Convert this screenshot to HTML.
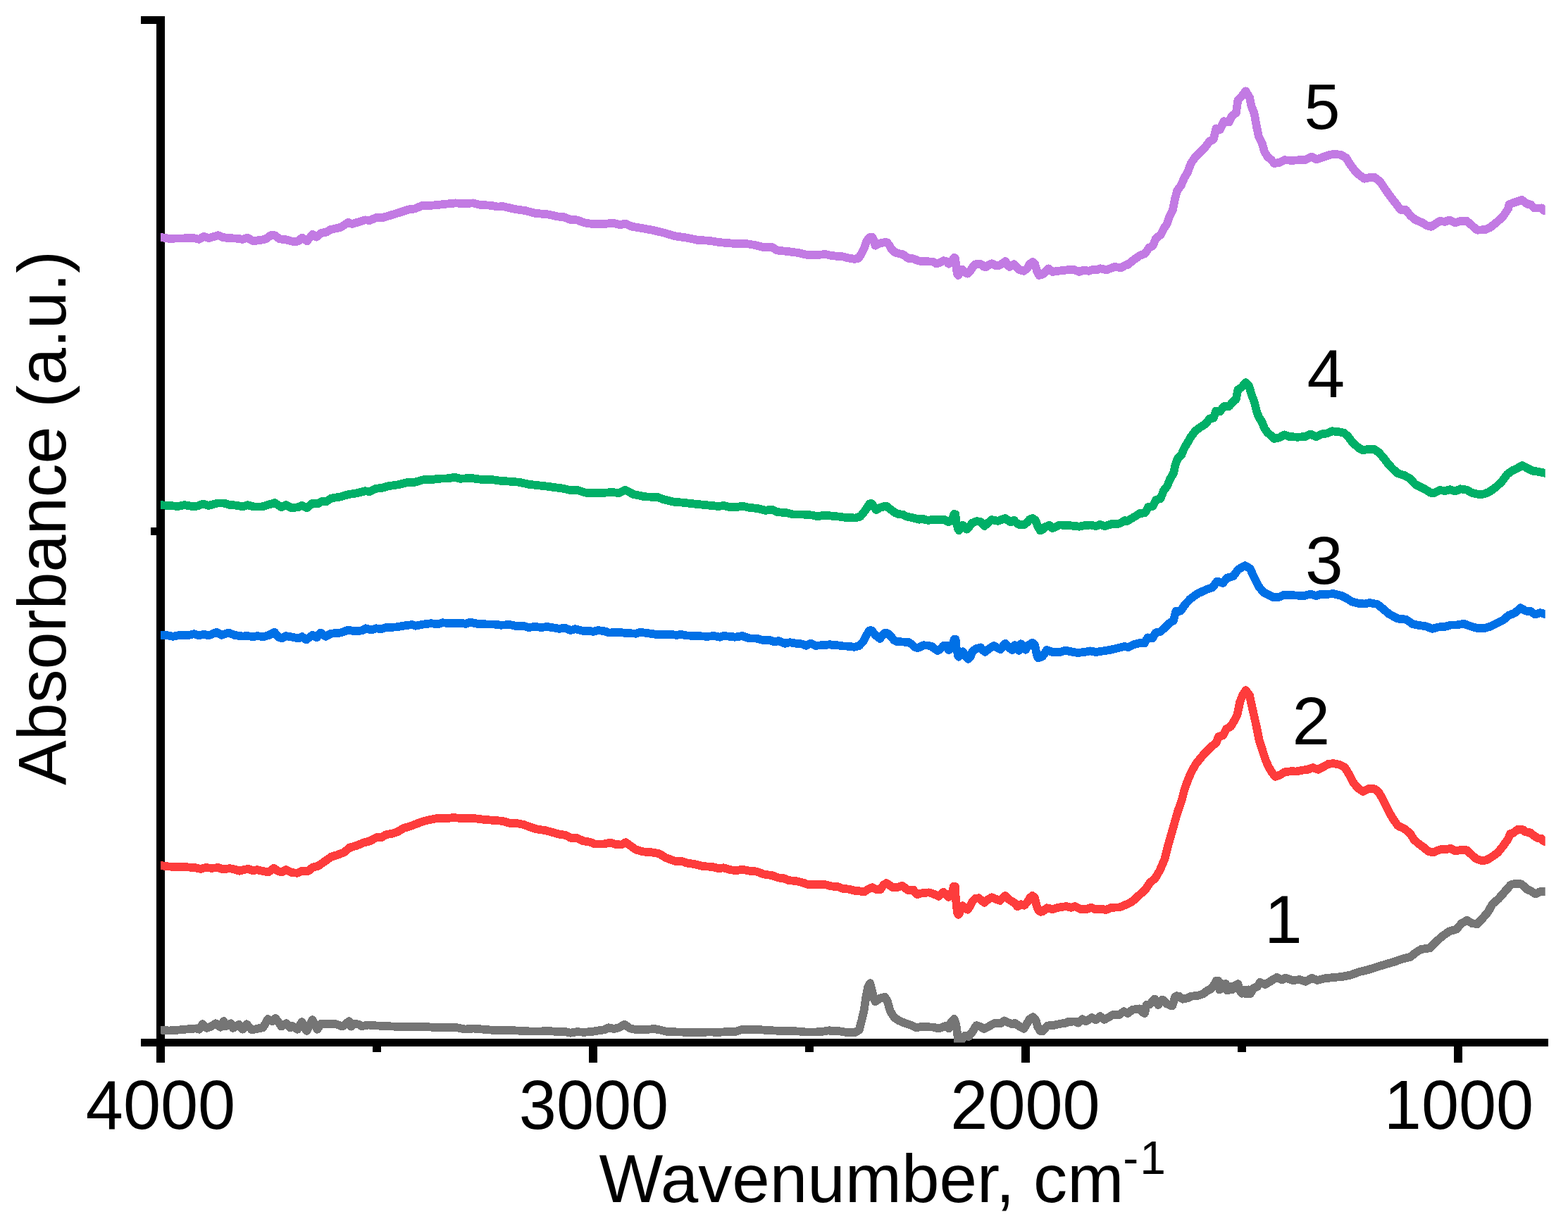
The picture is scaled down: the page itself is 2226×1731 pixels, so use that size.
<!DOCTYPE html>
<html lang="en">
<head>
<meta charset="utf-8">
<title>FTIR absorbance spectra</title>
<style>
html,body{margin:0;padding:0;background:#fff;}
body{width:2226px;height:1731px;overflow:hidden;}
svg{display:block;}
text{font-family:"Liberation Sans",Arial,Helvetica,sans-serif;fill:#000;}
.t{font-size:95.5px;}
.lab{font-size:96.5px;}
.curves polyline{fill:none;stroke-width:11.8;stroke-linejoin:round;stroke-linecap:butt;}
</style>
</head>
<body>
<svg width="2226" height="1731" viewBox="0 0 2226 1731">
<rect width="2226" height="1731" fill="#fff"/>
<defs><clipPath id="plot"><rect x="228" y="28.5" width="1965.7" height="1452"/></clipPath></defs>
<g fill="#000" shape-rendering="crispEdges">
<rect x="222" y="23" width="12" height="1486"/>
<rect x="200" y="23" width="22" height="11"/>
<rect x="214" y="749" width="8" height="11"/>
<rect x="200" y="1475" width="1998" height="11"/>
<rect x="836" y="1486" width="12" height="23"/>
<rect x="1450" y="1486" width="12" height="23"/>
<rect x="2064" y="1486" width="12" height="23"/>
<rect x="529" y="1486" width="12" height="8"/>
<rect x="1143" y="1486" width="12" height="8"/>
<rect x="1757" y="1486" width="12" height="8"/>
</g>
<g class="curves" clip-path="url(#plot)" shape-rendering="crispEdges">
<polyline points="216.0,1462.5 228.0,1462.5 240.2,1463.5 254.0,1462.5 264.9,1461.5 270.4,1461.1 278.7,1460.4 282.8,1461.7 287.6,1454.3 293.8,1459.8 299.3,1457.7 306.2,1453.3 313.0,1458.7 317.8,1450.1 319.9,1457.3 328.1,1453.3 330.9,1459.8 339.1,1454.9 344.6,1461.7 350.1,1454.3 357.7,1462.5 368.0,1460.2 373.5,1459.1 380.3,1447.1 386.5,1450.1 391.3,1446.0 399.6,1457.6 406.4,1453.3 411.9,1459.3 414.7,1456.7 422.2,1461.7 428.4,1451.2 435.3,1463.9 443.5,1448.2 450.4,1461.7 455.9,1453.6 464.1,1454.3 475.1,1453.6 486.1,1457.6 495.7,1450.1 498.5,1457.6 502.6,1453.6 510.0,1454.9 513.6,1457.1 522.8,1455.5 534.2,1456.4 548.0,1457.1 561.7,1457.7 577.7,1457.7 593.8,1458.2 607.5,1458.2 621.2,1459.3 635.0,1458.7 648.7,1459.3 660.2,1461.6 671.6,1460.5 685.3,1461.6 700.0,1462.8 718.3,1462.8 734.3,1463.5 750.4,1464.4 766.4,1464.6 777.8,1463.9 791.6,1465.1 803.0,1465.1 809.9,1466.7 819.0,1465.1 828.2,1465.8 839.7,1465.1 848.8,1463.5 858.0,1462.3 863.7,1459.3 871.7,1461.0 878.6,1459.3 886.6,1454.8 894.6,1460.5 903.8,1462.1 915.2,1462.1 928.9,1461.0 938.1,1462.8 947.3,1465.1 963.3,1465.5 979.3,1465.8 995.3,1465.8 1006.8,1465.5 1020.5,1465.8 1032.0,1465.1 1043.4,1465.1 1052.6,1462.3 1066.3,1462.1 1080.0,1462.3 1093.8,1463.2 1107.5,1463.9 1121.2,1463.9 1135.0,1464.6 1144.1,1465.5 1157.9,1465.5 1169.3,1464.6 1177.3,1463.2 1180.0,1464.3 1191.0,1464.1 1202.0,1466.0 1214.3,1466.0 1219.8,1462.4 1223.3,1448.7 1226.6,1434.9 1229.6,1414.3 1232.2,1402.0 1235.2,1396.2 1237.7,1406.1 1240.2,1417.1 1242.5,1422.4 1249.4,1417.4 1256.2,1415.9 1259.7,1421.2 1263.8,1435.6 1269.3,1444.6 1276.2,1449.4 1284.4,1452.8 1295.4,1456.6 1300.9,1459.4 1307.7,1458.0 1317.4,1458.3 1324.2,1458.6 1332.5,1460.4 1338.0,1458.6 1342.8,1456.6 1346.9,1460.4 1350.3,1451.4 1354.5,1447.0 1357.2,1454.2 1359.3,1469.3 1360.6,1482.3 1362.7,1482.3 1365.4,1476.2 1370.2,1470.7 1375.1,1471.9 1380.5,1465.2 1386.0,1456.2 1391.5,1457.6 1397.0,1461.0 1402.5,1458.3 1408.0,1454.9 1413.5,1452.5 1420.4,1453.5 1425.9,1449.4 1431.4,1452.1 1436.9,1454.2 1441.0,1452.8 1446.5,1456.9 1453.4,1460.8 1457.5,1454.2 1461.6,1447.3 1466.4,1444.3 1470.5,1448.7 1473.3,1458.3 1476.7,1463.8 1480.0,1464.5 1486.9,1456.5 1496.5,1455.8 1504.7,1453.8 1513.0,1452.7 1517.1,1450.8 1526.7,1450.5 1530.8,1452.6 1536.3,1447.3 1541.8,1450.3 1550.1,1445.2 1555.5,1448.2 1561.7,1443.1 1567.9,1447.8 1574.8,1444.1 1580.3,1440.7 1588.5,1441.3 1595.4,1436.3 1600.9,1438.9 1607.7,1433.8 1617.4,1432.4 1622.9,1437.9 1624.9,1438.9 1627.7,1426.9 1632.5,1426.2 1639.3,1418.4 1644.1,1426.9 1650.3,1419.4 1656.5,1425.5 1664.1,1428.6 1668.2,1415.9 1670.2,1414.3 1673.7,1414.6 1679.2,1418.7 1686.0,1417.3 1691.5,1414.6 1699.8,1414.0 1708.0,1411.4 1713.5,1407.0 1719.0,1404.3 1723.8,1398.1 1726.6,1392.7 1729.3,1392.7 1731.4,1405.6 1734.8,1397.1 1738.2,1403.8 1740.3,1397.1 1742.6,1406.6 1746.5,1400.5 1749.2,1405.2 1753.4,1399.6 1757.5,1397.1 1759.5,1405.6 1763.0,1410.7 1767.1,1405.4 1769.1,1411.4 1772.6,1405.4 1774.6,1411.4 1780.0,1402.9 1785.0,1401.2 1788.8,1395.0 1796.2,1398.0 1805.0,1392.5 1812.5,1388.0 1820.0,1391.2 1825.0,1388.8 1835.0,1392.0 1845.0,1391.2 1853.8,1393.8 1862.5,1388.8 1870.0,1392.0 1880.0,1389.5 1892.5,1388.0 1905.0,1387.0 1917.5,1384.5 1930.0,1380.0 1942.5,1377.0 1955.0,1373.0 1967.5,1369.2 1980.0,1365.5 1992.5,1361.2 2002.5,1358.8 2010.0,1352.5 2017.5,1348.0 2030.0,1346.2 2040.0,1336.2 2047.5,1329.5 2057.5,1322.5 2067.5,1319.5 2075.0,1311.2 2082.5,1307.0 2090.0,1311.2 2097.5,1312.0 2105.0,1303.8 2112.5,1295.0 2118.8,1283.8 2127.5,1276.2 2136.2,1266.2 2145.0,1256.2 2152.5,1254.5 2160.0,1255.5 2167.5,1262.5 2173.8,1265.5 2180.0,1269.5 2186.2,1266.2 2193.6,1266.2 2205.6,1266.2" stroke="#757575"/>
<polyline points="216.0,1228.9 228.0,1228.9 238.9,1230.5 252.7,1231.0 264.1,1231.2 277.8,1232.3 284.7,1233.9 291.6,1232.1 300.7,1232.8 309.9,1232.1 316.8,1234.4 325.9,1233.2 332.8,1234.4 339.7,1236.7 346.5,1235.1 352.2,1233.9 359.1,1236.2 364.8,1235.1 371.7,1236.7 380.9,1238.5 388.9,1232.8 394.6,1236.9 400.3,1238.5 406.0,1235.1 414.1,1239.2 422.1,1239.7 428.9,1236.9 438.1,1236.7 443.8,1231.6 451.8,1229.8 458.7,1224.8 470.1,1216.8 479.3,1213.8 488.5,1210.3 496.5,1203.5 506.8,1200.7 515.9,1196.6 525.1,1194.3 534.2,1189.3 541.1,1189.3 548.0,1185.2 557.1,1183.6 564.0,1181.3 573.2,1176.0 582.3,1173.3 591.5,1169.8 600.6,1166.4 609.8,1164.1 619.0,1162.3 630.4,1162.3 644.1,1161.1 657.9,1162.3 671.6,1161.8 683.1,1163.4 696.8,1164.6 700.0,1164.8 713.7,1165.9 722.9,1168.7 732.1,1168.7 743.5,1171.0 752.7,1174.4 761.8,1177.4 773.3,1179.0 784.7,1182.0 793.9,1184.7 803.0,1185.9 809.9,1189.7 819.0,1190.0 828.2,1194.3 837.4,1195.7 844.2,1198.4 858.0,1198.4 866.0,1196.6 874.0,1198.9 882.0,1199.6 888.2,1196.2 894.6,1200.7 902.6,1206.5 912.9,1209.4 924.4,1210.3 935.8,1212.2 945.0,1217.9 954.1,1221.3 961.0,1223.6 966.7,1222.5 974.7,1225.5 986.2,1227.1 997.6,1230.0 1011.4,1231.0 1020.5,1233.2 1027.4,1232.3 1036.5,1235.1 1045.7,1236.2 1053.7,1234.6 1064.0,1236.7 1073.2,1237.4 1084.6,1241.5 1096.1,1243.1 1105.2,1246.5 1112.1,1247.0 1119.0,1250.0 1130.4,1251.1 1139.6,1253.4 1146.4,1255.7 1157.9,1256.1 1171.6,1256.1 1180.0,1258.4 1189.6,1259.2 1196.5,1261.9 1204.7,1262.6 1213.0,1264.7 1221.2,1265.5 1226.7,1266.6 1232.2,1262.9 1238.4,1260.1 1245.2,1263.6 1250.1,1262.9 1254.2,1256.7 1258.3,1254.1 1262.4,1256.7 1267.9,1260.5 1274.1,1260.1 1280.3,1257.8 1284.4,1260.5 1288.5,1263.8 1296.8,1263.6 1299.5,1267.7 1302.3,1270.0 1309.1,1268.2 1318.7,1267.4 1325.6,1269.5 1332.5,1272.8 1335.9,1269.8 1339.3,1267.0 1343.5,1270.4 1346.9,1273.9 1350.3,1270.4 1352.8,1263.6 1353.9,1258.8 1356.0,1258.8 1356.6,1271.8 1358.8,1295.2 1360.6,1298.9 1361.6,1297.9 1363.4,1292.4 1366.1,1286.2 1370.2,1290.4 1373.7,1291.7 1377.1,1286.9 1380.5,1280.1 1384.7,1275.9 1389.5,1275.2 1394.3,1279.4 1397.7,1281.7 1402.5,1277.3 1408.0,1274.3 1413.5,1276.6 1419.7,1279.0 1423.8,1274.6 1427.3,1272.0 1431.4,1276.6 1435.5,1279.4 1439.6,1281.7 1444.4,1287.2 1449.9,1284.2 1454.0,1285.8 1458.8,1280.7 1462.3,1274.6 1465.7,1272.0 1469.1,1275.2 1471.9,1286.9 1474.6,1293.1 1477.4,1294.8 1480.0,1294.5 1486.2,1289.3 1494.2,1291.1 1502.2,1288.8 1513.6,1287.0 1520.5,1288.8 1526.2,1287.0 1534.2,1291.1 1542.3,1291.1 1549.1,1288.8 1556.0,1291.6 1564.0,1290.6 1569.7,1292.2 1577.7,1288.8 1589.2,1288.4 1598.4,1284.7 1607.5,1280.1 1616.7,1271.6 1625.8,1263.6 1632.7,1253.3 1639.6,1247.6 1646.4,1236.2 1653.3,1220.1 1657.9,1201.8 1662.5,1185.8 1667.0,1169.8 1671.6,1153.7 1677.8,1135.8 1681.5,1121.2 1686.1,1108.4 1691.6,1095.5 1698.0,1084.5 1705.3,1075.4 1712.6,1067.1 1720.0,1059.8 1726.4,1055.2 1730.0,1046.1 1736.4,1044.2 1741.0,1035.1 1747.4,1031.4 1752.9,1022.3 1756.6,1014.9 1760.3,996.6 1763.9,987.5 1768.5,980.1 1774.0,987.5 1776.7,1000.3 1780.4,1016.8 1784.1,1033.3 1787.7,1051.6 1791.4,1062.6 1796.0,1077.2 1800.5,1088.2 1806.0,1097.4 1810.6,1102.9 1817.9,1100.1 1823.4,1096.4 1832.6,1095.2 1839.9,1095.5 1849.1,1093.7 1856.4,1092.8 1863.7,1090.0 1871.1,1092.8 1878.4,1089.1 1885.7,1084.9 1893.0,1084.2 1902.2,1086.0 1909.5,1090.0 1915.0,1099.2 1920.5,1110.2 1927.8,1119.3 1935.2,1123.9 1942.5,1120.3 1951.6,1120.3 1957.1,1124.8 1962.6,1134.0 1968.1,1145.0 1973.6,1156.0 1979.1,1165.1 1984.6,1172.5 1993.8,1177.0 2001.8,1183.2 2007.3,1192.3 2014.6,1198.7 2021.1,1203.3 2027.5,1208.8 2034.8,1210.6 2040.3,1207.9 2045.8,1206.0 2053.1,1206.0 2059.5,1204.8 2065.9,1208.4 2073.3,1207.0 2082.4,1207.3 2089.7,1214.3 2096.1,1219.8 2104.4,1222.5 2111.7,1220.7 2119.0,1216.1 2126.4,1210.6 2133.7,1201.5 2141.0,1191.4 2143.8,1184.2 2148.5,1182.7 2154.4,1178.0 2158.5,1178.0 2162.6,1178.3 2165.6,1181.3 2172.1,1182.2 2177.9,1186.9 2183.8,1190.5 2188.5,1190.9 2190.9,1194.0 2193.6,1195.2 2205.6,1195.2" stroke="#fd3c3c"/>
<polyline points="216.0,901.9 228.0,901.9 238.9,902.4 245.8,903.8 254.9,901.9 266.4,902.4 275.5,900.1 282.4,902.4 289.3,900.8 296.2,902.4 307.6,897.8 314.5,901.9 324.8,898.5 332.8,901.9 344.2,903.5 351.1,903.1 360.3,904.2 364.8,903.1 374.0,904.2 382.0,901.9 389.6,897.8 394.6,904.2 400.3,906.5 406.0,903.1 415.2,904.7 423.2,906.5 428.9,904.2 434.7,908.4 443.8,901.9 449.5,905.4 455.3,898.5 462.1,903.8 470.1,899.7 483.9,898.5 494.2,894.6 502.2,896.2 513.6,895.5 519.4,892.3 527.4,894.6 534.2,892.3 541.1,893.2 548.0,891.0 561.7,890.5 575.5,888.2 584.6,887.1 590.3,888.7 600.6,886.6 612.1,885.2 621.2,886.4 628.1,884.3 639.6,885.2 655.6,884.8 661.3,885.9 667.0,883.6 678.5,885.9 689.9,886.4 700.0,886.4 711.4,887.7 724.0,887.1 734.3,889.3 744.6,889.3 750.4,891.0 759.5,890.0 768.7,891.0 776.7,890.0 787.0,891.6 793.9,892.8 801.9,891.6 809.9,895.1 816.8,893.2 827.1,895.8 836.2,895.8 841.9,896.9 848.8,895.1 858.0,896.2 864.8,898.5 878.6,898.0 892.3,899.2 902.6,899.7 909.5,897.8 919.8,899.2 931.2,900.8 942.7,900.8 951.8,900.8 961.0,901.9 966.7,900.8 974.7,902.4 988.5,903.1 1004.5,903.8 1013.6,903.1 1021.7,904.7 1027.4,903.1 1036.5,903.8 1043.4,904.7 1053.7,903.1 1064.0,906.5 1073.2,906.5 1082.3,908.8 1092.6,908.8 1099.5,911.6 1105.2,910.0 1114.4,913.8 1121.2,912.2 1130.4,913.8 1138.4,914.5 1144.1,916.8 1151.0,913.8 1157.9,916.8 1169.3,916.1 1178.5,915.2 1180.0,915.7 1188.2,916.2 1196.5,917.4 1204.7,917.7 1213.0,918.8 1219.8,916.9 1225.3,911.1 1229.5,902.9 1234.3,895.3 1237.4,895.3 1243.9,902.9 1249.4,907.0 1252.1,902.9 1255.5,899.2 1259.9,899.2 1265.2,904.3 1269.3,909.1 1273.4,911.1 1281.6,911.5 1289.9,912.1 1294.0,914.6 1298.1,918.7 1302.3,920.1 1306.4,918.7 1310.5,916.3 1317.4,916.6 1322.9,918.0 1327.0,921.4 1331.1,924.0 1335.2,921.4 1339.3,917.0 1343.5,916.6 1346.9,923.1 1351.0,918.7 1353.4,911.8 1354.7,907.8 1356.6,907.8 1357.5,918.7 1360.2,931.0 1361.0,932.7 1364.1,929.0 1366.8,925.3 1370.9,931.7 1374.4,935.9 1377.8,932.4 1380.5,924.9 1386.0,921.2 1392.2,919.4 1395.7,923.5 1398.4,925.8 1403.9,921.4 1410.8,917.0 1416.3,920.1 1420.4,922.1 1424.5,916.6 1427.3,913.9 1432.7,920.1 1436.9,923.1 1440.3,916.2 1443.7,920.1 1446.5,923.8 1449.2,914.3 1452.7,918.7 1456.1,922.7 1460.2,915.9 1465.7,912.9 1469.1,915.9 1471.2,926.9 1473.3,934.1 1476.7,933.5 1480.0,932.1 1486.2,923.0 1494.2,926.0 1504.5,926.0 1512.5,923.7 1520.5,925.3 1529.7,927.1 1538.8,926.0 1548.0,924.4 1556.0,926.0 1566.3,924.4 1577.7,922.5 1586.9,920.3 1596.1,918.0 1601.8,919.1 1609.8,915.2 1619.0,912.9 1624.7,913.4 1629.3,905.4 1636.1,906.5 1640.7,898.5 1647.6,896.9 1654.4,890.5 1660.2,884.8 1665.9,881.3 1669.3,868.1 1676.2,867.6 1681.9,858.9 1689.9,850.4 1700.0,843.1 1712.0,837.5 1721.7,833.9 1727.7,825.5 1736.1,827.9 1742.1,820.7 1750.6,818.3 1757.8,808.6 1767.4,803.1 1774.7,807.4 1780.7,820.7 1786.7,832.7 1793.9,841.2 1801.2,844.8 1808.4,848.4 1815.6,847.9 1822.8,844.8 1834.9,845.3 1851.7,846.0 1860.2,843.6 1868.6,846.0 1875.8,843.6 1883.0,844.0 1892.7,843.1 1904.7,846.0 1911.9,849.6 1919.2,854.4 1928.8,856.8 1937.2,857.5 1944.5,856.1 1955.3,858.0 1963.7,864.8 1972.2,872.0 1984.2,878.5 1996.2,879.7 2005.9,886.4 2015.5,888.1 2023.9,889.3 2033.6,892.9 2042.0,890.5 2051.6,889.8 2060.1,887.4 2068.5,887.4 2078.1,885.7 2087.8,889.3 2097.4,892.2 2107.0,892.2 2116.7,889.3 2123.9,885.7 2133.5,880.9 2142.0,873.7 2150.4,870.5 2158.8,863.3 2166.0,867.6 2172.1,867.6 2179.3,872.5 2186.5,870.1 2193.6,872.0 2205.6,872.0" stroke="#0070e6"/>
<polyline points="216.0,717.2 228.0,717.2 238.9,717.9 252.7,719.0 261.8,717.2 273.3,719.0 280.1,718.6 288.1,715.6 296.2,717.9 308.7,714.5 317.9,714.5 325.9,716.8 337.4,717.9 344.2,719.5 351.1,717.2 360.3,719.5 371.7,719.5 380.9,716.8 390.0,714.0 399.2,720.2 406.0,717.2 414.1,721.3 423.2,720.2 428.9,717.9 435.8,721.3 443.8,714.5 450.7,715.6 456.4,712.2 463.3,712.2 470.1,707.6 483.9,705.3 495.3,701.9 504.5,700.7 518.2,697.3 525.1,698.0 533.1,693.9 543.4,692.7 550.3,690.4 566.3,688.1 577.7,685.2 589.2,684.7 600.6,681.3 612.1,681.3 621.2,679.7 635.0,679.4 645.3,677.8 653.3,679.7 669.3,679.0 680.8,680.6 696.8,681.3 700.0,681.3 711.4,682.9 722.9,683.6 736.6,684.7 750.4,687.7 768.7,689.7 787.0,692.0 800.7,693.9 809.9,696.2 819.0,695.7 830.5,699.6 846.5,700.0 860.3,699.6 869.4,698.9 878.6,700.3 887.7,695.7 899.2,701.9 915.2,705.3 933.5,706.0 942.7,709.4 956.4,712.6 970.1,713.8 986.2,715.6 1002.2,717.2 1020.5,719.0 1027.4,717.9 1034.2,719.7 1045.7,720.2 1053.7,718.6 1064.0,720.9 1075.5,722.0 1086.9,724.8 1096.1,723.6 1102.9,727.1 1116.7,728.2 1125.8,730.5 1139.6,730.5 1153.3,731.6 1160.2,733.2 1171.6,731.6 1180.0,732.6 1191.0,733.6 1200.6,734.9 1214.3,735.5 1221.2,733.6 1228.1,725.3 1234.5,715.2 1237.7,715.2 1241.5,720.5 1243.9,724.0 1248.7,721.2 1255.8,718.9 1258.6,718.9 1265.2,724.0 1270.7,728.1 1276.2,730.3 1281.6,730.5 1287.1,733.6 1294.0,734.9 1300.9,736.7 1305.0,737.7 1309.1,736.5 1314.6,738.4 1318.7,738.8 1324.2,737.7 1329.7,738.0 1335.2,737.7 1340.7,737.8 1346.2,741.1 1351.0,739.1 1353.4,732.9 1354.7,730.0 1356.4,730.3 1357.2,740.4 1360.2,751.4 1361.3,753.1 1364.1,748.7 1366.8,745.7 1369.6,749.4 1372.3,751.7 1376.4,747.3 1380.5,742.5 1386.0,740.2 1391.5,740.6 1395.0,744.6 1397.7,746.9 1402.5,742.5 1408.0,738.1 1413.5,739.3 1417.0,739.8 1422.4,737.7 1427.3,736.0 1431.4,739.3 1434.8,741.4 1439.6,738.8 1443.0,742.5 1446.5,744.8 1453.4,745.5 1458.2,741.8 1461.6,737.7 1465.7,736.0 1469.8,738.4 1472.6,745.9 1476.7,753.5 1480.0,752.1 1483.9,748.2 1489.6,745.9 1494.2,750.0 1504.5,745.5 1513.6,745.9 1522.8,746.6 1532.0,747.7 1538.8,746.4 1548.0,745.5 1556.0,747.1 1561.7,744.8 1568.6,747.1 1580.0,743.6 1589.2,743.6 1597.2,739.0 1600.0,740.1 1609.2,734.6 1618.3,729.1 1625.6,728.2 1630.2,719.9 1636.6,719.0 1641.2,709.9 1647.6,708.0 1652.2,696.1 1656.8,690.6 1661.4,679.6 1665.9,672.3 1668.7,659.5 1672.3,650.3 1676.9,646.7 1681.5,635.7 1686.1,628.4 1690.7,620.1 1697.1,611.9 1704.4,606.4 1711.7,601.8 1717.2,594.5 1722.7,593.6 1726.4,583.5 1731.9,584.4 1737.4,577.1 1744.7,577.1 1750.2,570.7 1754.8,567.0 1757.5,553.3 1763.0,549.6 1768.5,543.2 1773.1,547.8 1776.7,560.6 1780.4,569.7 1784.1,584.4 1786.8,591.7 1791.4,599.0 1795.1,608.2 1799.6,614.6 1804.2,618.3 1808.8,622.9 1816.1,621.4 1823.4,617.4 1830.8,620.1 1841.8,620.7 1852.7,620.1 1860.1,616.4 1868.3,620.1 1876.6,616.4 1883.9,615.5 1891.2,612.2 1900.4,613.3 1907.7,614.6 1913.2,619.2 1918.7,626.5 1924.2,632.0 1929.7,636.6 1935.2,639.3 1942.5,637.9 1949.8,637.5 1957.1,642.1 1963.6,649.4 1970.0,657.7 1977.3,665.9 1984.6,672.3 1993.8,675.1 2001.8,679.6 2009.2,687.9 2016.5,691.5 2023.8,695.2 2031.1,699.8 2036.6,699.8 2043.9,696.1 2051.3,697.0 2058.6,695.2 2065.9,697.6 2073.3,694.3 2082.4,695.8 2089.7,699.8 2097.1,701.6 2106.2,701.6 2113.5,698.9 2122.7,692.5 2131.9,684.2 2139.2,674.1 2146.5,668.6 2153.8,665.0 2161.2,661.0 2168.5,665.0 2175.8,668.6 2183.1,669.6 2193.6,671.9 2205.6,671.9" stroke="#00af67"/>
<polyline points="216.0,336.9 228.0,336.9 238.9,338.7 259.5,338.5 273.3,337.6 282.4,339.9 289.3,335.8 296.2,338.1 309.9,334.2 316.8,337.1 324.8,338.1 337.4,338.7 344.2,339.9 351.1,337.6 359.1,342.2 369.4,341.0 377.4,339.4 384.3,334.2 390.0,334.2 396.9,339.4 406.0,340.3 414.1,342.6 423.2,342.6 428.9,337.6 435.8,342.2 443.8,333.0 449.5,336.5 456.4,330.7 463.3,329.6 469.0,326.2 483.9,322.7 494.2,315.9 499.9,318.1 506.8,315.9 518.2,312.4 525.1,312.9 534.2,309.0 543.4,309.0 566.3,302.1 580.0,297.5 589.2,296.4 598.4,292.3 612.1,291.8 623.5,290.7 635.0,289.5 646.4,288.4 657.9,289.1 671.6,288.4 680.8,290.7 696.8,291.8 700.0,292.3 706.9,293.6 713.7,293.0 722.9,295.2 734.3,297.5 745.8,299.1 759.5,302.8 777.8,304.4 791.6,307.4 800.7,308.3 809.9,312.0 819.0,312.4 830.5,316.5 841.9,318.1 858.0,318.1 869.4,316.5 880.9,319.3 887.7,317.5 896.9,321.6 912.9,324.3 928.9,327.3 942.7,330.7 958.7,335.3 974.7,337.6 990.8,341.0 1006.8,341.7 1020.5,344.0 1038.8,345.6 1057.1,345.6 1070.9,347.9 1084.6,351.3 1096.1,350.9 1102.9,355.5 1119.0,357.1 1135.0,359.3 1144.1,361.6 1157.9,362.3 1171.6,361.0 1180.0,362.9 1188.2,363.8 1196.5,364.4 1204.7,366.5 1213.0,367.8 1219.1,366.6 1222.6,360.8 1226.7,352.6 1230.1,343.0 1234.3,337.1 1238.4,336.9 1241.5,343.0 1242.5,348.7 1247.3,346.0 1255.3,344.2 1259.4,344.2 1263.1,349.1 1265.2,353.7 1270.7,358.4 1276.2,360.1 1281.6,361.1 1285.8,364.3 1289.9,367.0 1296.8,367.4 1300.9,369.1 1303.6,370.4 1311.9,371.3 1324.2,371.5 1329.7,374.6 1335.2,372.5 1339.3,370.2 1343.5,371.1 1346.9,374.6 1351.0,371.8 1353.4,367.7 1354.7,366.0 1356.1,366.6 1357.2,375.9 1358.8,388.3 1360.2,390.9 1362.7,386.9 1366.1,382.5 1370.2,386.9 1373.7,388.6 1377.8,384.2 1381.2,378.7 1384.7,375.2 1392.9,375.2 1396.3,378.4 1399.1,379.4 1403.2,376.6 1408.0,374.3 1413.5,377.0 1417.0,377.6 1422.4,374.6 1427.3,371.1 1430.7,376.6 1433.4,379.0 1439.6,375.2 1443.7,380.1 1447.2,383.1 1453.4,384.9 1458.2,381.4 1461.6,375.2 1465.7,372.0 1469.1,374.6 1471.9,384.2 1475.3,390.9 1480.0,389.7 1481.6,388.2 1488.5,381.3 1494.2,385.9 1502.2,384.8 1515.9,383.2 1525.1,383.2 1532.0,385.9 1538.8,383.6 1545.7,384.8 1552.6,382.5 1557.1,383.6 1561.7,381.3 1570.9,383.2 1582.3,379.0 1591.5,380.2 1598.4,376.3 1600.0,376.6 1609.2,369.2 1618.3,362.8 1625.6,360.1 1631.1,351.8 1636.6,349.1 1641.2,338.1 1647.6,333.5 1652.2,324.4 1656.8,317.9 1660.4,307.0 1665.0,297.8 1667.8,283.2 1671.4,270.3 1676.9,263.0 1681.5,252.0 1686.1,244.7 1690.7,231.9 1697.1,222.7 1704.4,215.4 1711.7,208.1 1717.2,200.7 1722.7,198.0 1726.4,182.4 1731.9,184.2 1737.4,172.3 1744.7,173.3 1749.3,164.1 1754.8,160.4 1757.5,142.1 1763.0,136.6 1768.5,129.3 1774.0,138.5 1776.7,151.3 1780.4,160.4 1784.1,180.6 1786.8,193.4 1791.4,202.6 1795.1,215.4 1799.6,222.7 1805.1,227.3 1808.8,231.9 1816.1,231.0 1823.4,227.3 1834.4,227.8 1843.6,227.3 1852.7,227.3 1861.9,222.7 1869.2,226.4 1878.4,223.1 1887.5,220.0 1894.9,218.7 1904.0,220.0 1911.4,224.5 1916.8,233.7 1922.3,241.0 1929.7,248.4 1937.0,253.8 1944.3,252.0 1951.6,252.0 1959.0,257.5 1966.3,268.5 1975.5,281.3 1982.8,290.5 1988.3,297.8 1995.6,297.8 2001.8,305.7 2009.2,312.1 2018.3,315.8 2025.6,320.3 2032.0,321.8 2038.5,317.6 2043.9,313.9 2051.3,314.8 2057.7,312.6 2065.9,316.3 2073.3,313.9 2082.4,313.9 2089.7,320.3 2097.1,326.7 2108.1,326.2 2115.4,323.1 2124.5,315.8 2133.7,307.5 2141.0,296.5 2142.6,290.1 2150.9,287.2 2155.6,285.7 2160.3,283.9 2163.8,286.6 2168.5,289.8 2173.2,290.5 2177.9,295.4 2183.8,295.6 2188.5,295.4 2190.9,298.7 2193.6,298.9 2205.6,298.9" stroke="#c27ae3"/>
</g>
<g class="t" text-anchor="middle" transform="translate(0 1603.2) scale(1 1.02)">
<text x="228" y="0">4000</text>
<text x="843" y="0">3000</text>
<text x="1455.5" y="0">2000</text>
<text x="2071" y="0">1000</text>
</g>
<text x="850.5" y="1706.8" font-size="96.2">Wavenumber, cm<tspan font-size="66" dx="-1" dy="-40.3">-</tspan><tspan font-size="66" dx="2">1</tspan></text>
<text class="t" transform="translate(93.2 1115) rotate(-90)">Absorbance (a.u.)</text>
<g class="lab">
<text x="1795" y="1338.9">1</text>
<text x="1834.5" y="1056.9">2</text>
<text x="1853" y="828.7">3</text>
<text x="1855.5" y="564">4</text>
<text x="1851.5" y="182.8" font-size="91.5">5</text>
</g>
</svg>
</body>
</html>
